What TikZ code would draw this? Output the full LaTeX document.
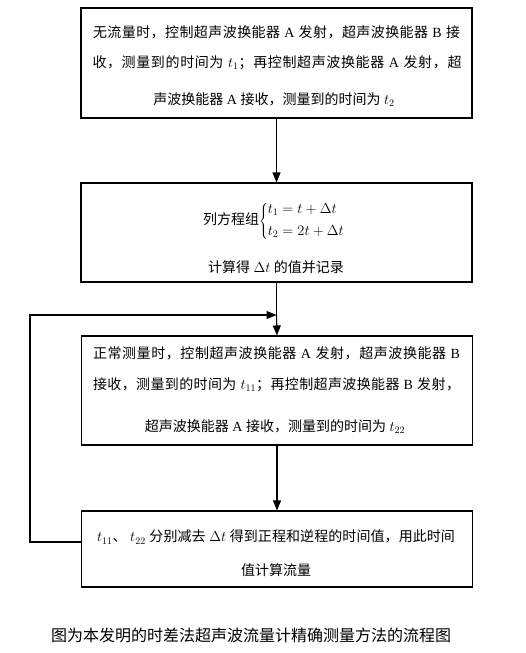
\documentclass[tikz,border=0pt]{standalone}
\usepackage{fontspec}
\setmainfont{Liberation Serif}
\newfontfamily\zhfont{Noto Sans CJK SC}
\newcommand\zh[1]{{\zhfont #1}}
\usetikzlibrary{arrows.meta}
\newXeTeXintercharclass\zhclass
\newcount\zhc
\zhc="4E00
\loop \XeTeXcharclass\zhc=\zhclass \advance\zhc 1 \ifnum\zhc<"A000 \repeat
\XeTeXcharclass"FF0C=\zhclass
\XeTeXcharclass"FF1B=\zhclass
\XeTeXcharclass"3001=\zhclass
\XeTeXinterchartoks\zhclass\zhclass={\hskip 0pt plus 1pt\relax}
\XeTeXinterchartokenstate=1
\tikzset{
  box/.style={draw, line width=1.1pt, minimum width=391pt, inner sep=0pt},
  ln/.style={inner sep=0pt, font=\fontsize{14pt}{16pt}\selectfont},
  arr/.style={line width=1.1pt, -{Triangle[length=10pt,width=8pt]}},
}
\begin{document}
\begin{tikzpicture}[x=1pt,y=-1pt]
\useasboundingbox (0,0) rectangle (525,653);
% boxes
\node[box, minimum height=110pt] (b1) at (276.5,63) {};
\node[box, minimum height=99pt] (b2) at (276.5,232.5) {};
\node[box, minimum height=109pt] (b3) at (277,390.5) {};
\node[box, minimum height=76pt] (b4) at (277,549) {};
% box 1 text
\node[ln] (t1a) at (276.5,32) {\makebox[367pt][s]{\zh{无流量时，控制超声波换能器} A \zh{发射，超声波换能器} B \zh{接}}};
\node[ln] (t1b) at (277,63) {\makebox[369pt][s]{\zh{收，测量到的时间为} $t_1$\zh{；再控制超声波换能器} A \zh{发射，超}}};
\node[ln] (t1c) at (274,100) {\zh{声波换能器} A \zh{接收，测量到的时间为} $t_2$};
% box 2 text
\node[ln] (t2a) at (274,221) {\zh{列方程组}$\left\{\begin{array}{@{}l@{}} t_1 = t+\Delta t\\[6pt] t_2=2t+\Delta t\end{array}\right.$};
\node[ln] (t2b) at (276,267) {\zh{计算得} $\Delta t$ \zh{的值并记录}};
% box 3 text
\node[ln] (t3a) at (276.5,353) {\makebox[367pt][s]{\zh{正常测量时，控制超声波换能器} A \zh{发射，超声波换能器} B}};
\node[ln] (t3b) at (276.5,385) {\makebox[367pt][s]{\zh{接收，测量到的时间为} $t_{11}$\zh{；再控制超声波换能器} B \zh{发射，}}};
\node[ln] (t3c) at (275,427) {\zh{超声波换能器} A \zh{接收，测量到的时间为} $t_{22}$};
% box 4 text
\node[ln] (t4a) at (276,537) {\makebox[358pt][s]{$t_{11}$\zh{、} $t_{22}$ \zh{分别减去} $\Delta t$ \zh{得到正程和逆程的时间值，用此时间}}};
\node[ln] (t4b) at (276,570) {\zh{值计算流量}};
% caption
\node[inner sep=0pt, font=\fontsize{16pt}{18pt}\selectfont] (cap) at (251,635) {\zh{图为本发明的时差法超声波流量计精确测量方法的流程图}};
% connectors
\coordinate (join) at (276.5,315);
\draw[arr] (b1.south) -- (b2.north);
\draw[line width=1.1pt] (b2.south) -- (join);
\draw[arr] (join) -- (b3.north);
\draw[arr] (b3.south) -- (b4.north);
\draw[arr] ([yshift=7pt]b4.west) -- ++(-51pt,0) |- (join);
\end{tikzpicture}
\end{document}
